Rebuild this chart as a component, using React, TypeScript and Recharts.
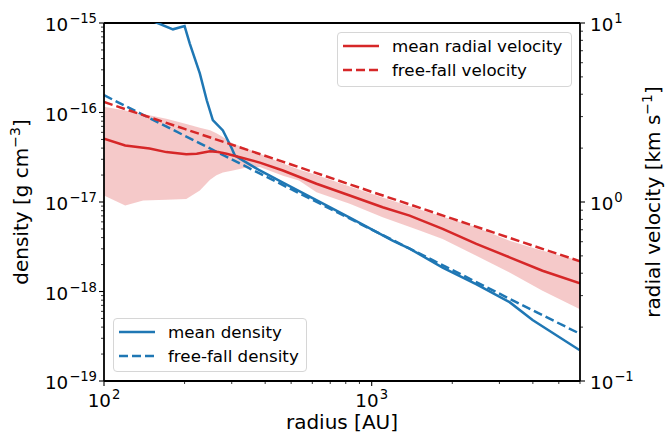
import { ComposedChart, Line, Area, XAxis, YAxis, ReferenceLine } from "recharts";

const BLUE = "#1f77b4";
const RED = "#d62728";
const FONT = "'DejaVu Sans', sans-serif";

// mean density profile (radius [AU], density [g cm^-3])
const DENS_R = [140, 159.5, 181, 200, 209, 228, 242, 255, 278, 290, 300, 308, 330, 382, 466, 624, 828, 1000, 1197, 1386, 1841, 2465, 3274, 3990, 5970];
const DENS_MEAN = [1.17e-15, 9.9e-16, 8.5e-16, 9.25e-16, 5.93e-16, 2.73e-16, 1.37e-16, 8.2e-17, 6.3e-17, 4.9e-17, 3.98e-17, 3.32e-17, 2.92e-17, 2.25e-17, 1.65e-17, 1.04e-17, 6.7e-18, 4.94e-18, 3.7e-18, 3.01e-18, 1.85e-18, 1.2e-18, 7.6e-19, 4.8e-19, 2.22e-19];

// free-fall density
const FF_DENS_R = [100, 200, 500, 1000, 2000, 4000, 6000];
const FF_DENS = [1.56e-16, 5.51e-17, 1.39e-17, 4.92e-18, 1.74e-18, 6.14e-19, 3.37e-19];

// mean radial velocity [km/s]
const VEL_R = [100, 120, 148, 171, 203, 222, 249, 267, 287, 322, 382, 466, 622, 828, 1099, 1386, 1841, 2460, 3274, 4346, 6000];
const VEL_MEAN = [2.26, 2.07, 1.99, 1.9, 1.85, 1.86, 1.92, 1.9, 1.86, 1.78, 1.66, 1.5, 1.265, 1.087, 0.935, 0.84, 0.708, 0.583, 0.491, 0.413, 0.351];

// spread of radial velocity
const BAND_R = [100, 120, 140, 171, 203, 228, 249, 263, 278, 303, 341, 382, 466, 535, 622, 828, 1099, 1511, 1841, 2460, 3274, 4346, 6000];
const BAND_HI = [3.4, 3.24, 3.1, 2.92, 2.73, 2.6, 2.52, 2.42, 2.31, 2.12, 1.99, 1.86, 1.64, 1.52, 1.415, 1.22, 1.06, 0.908, 0.83, 0.723, 0.608, 0.535, 0.47];
const BAND_LO = [1.087, 0.956, 1.02, 1.03, 1.04, 1.16, 1.33, 1.41, 1.46, 1.5, 1.56, 1.57, 1.4, 1.32, 1.135, 0.977, 0.822, 0.692, 0.622, 0.501, 0.404, 0.319, 0.252];

// free-fall velocity
const FF_VEL_R = [100, 200, 500, 1000, 2000, 4000, 6000];
const FF_VEL = [3.62, 2.56, 1.62, 1.14, 0.807, 0.57, 0.467];

const X_MAJOR = [100, 1000];
const RHO_MAJOR = [1e-19, 1e-18, 1e-17, 1e-16, 1e-15];
const V_MAJOR = [0.1, 1, 10];

const DASH = "9 4";
const LW = 2.5;

const TOP_LEGEND = [
  { label: "mean radial velocity", color: RED, dash: undefined },
  { label: "free-fall velocity", color: RED, dash: DASH },
];
const BOTTOM_LEGEND = [
  { label: "mean density", color: BLUE, dash: undefined },
  { label: "free-fall density", color: BLUE, dash: DASH },
];

function withMinor(majors: number[], max: number) {
  const out: number[] = [];
  majors.forEach((d) => {
    for (let m = 1; m <= 9; m++) {
      const v = d * m;
      if (v <= max * 1.0001) out.push(v);
    }
  });
  return out;
}

const X_TICKS = withMinor(X_MAJOR, 6000);
const RHO_TICKS = withMinor(RHO_MAJOR, 1e-15);
const V_TICKS = withMinor(V_MAJOR, 10);

const zip = (xs: number[], ys: number[], key: string) => xs.map((r, i) => ({ r, [key]: ys[i] }));
const densMean = zip(DENS_R, DENS_MEAN, "rho");
const densFF = zip(FF_DENS_R, FF_DENS, "rho");
const velMean = zip(VEL_R, VEL_MEAN, "v");
const velFF = zip(FF_VEL_R, FF_VEL, "v");
const band = BAND_R.map((r, i) => ({ r, range: [BAND_LO[i], BAND_HI[i]] }));

function decade(v: number) {
  const e = Math.log10(v);
  return Math.abs(e - Math.round(e)) < 1e-6 ? Math.round(e) : null;
}
const expText = (e: number) => (e < 0 ? "\u2212" + -e : String(e));

const TICK_FS = 18.3;
const SUP_FS = 13.2;

function Pow({ e, ...rest }: any) {
  return (
    <text fontFamily={FONT} fontSize={TICK_FS} fill="#000" {...rest}>
      10
      <tspan dx={1} dy={-8} fontSize={SUP_FS}>
        {expText(e)}
      </tspan>
    </text>
  );
}

function BottomTick({ x, y, payload }: any) {
  const e = decade(payload.value);
  return (
    <g>
      <line x1={x} x2={x} y1={y} y2={y + (e !== null ? 5 : 3)} stroke="#000" strokeWidth={e !== null ? 1.1 : 0.8} />
      {e !== null && <Pow e={e} x={x} y={y + 26} textAnchor="middle" />}
    </g>
  );
}

function LeftTick({ x, y, payload }: any) {
  const e = decade(payload.value);
  return (
    <g>
      <line x1={x} x2={x - (e !== null ? 5 : 3)} y1={y} y2={y} stroke="#000" strokeWidth={e !== null ? 1.1 : 0.8} />
      {e !== null && <Pow e={e} x={x - 7} y={y + 8} textAnchor="end" />}
    </g>
  );
}

function RightTick({ x, y, payload }: any) {
  const e = decade(payload.value);
  return (
    <g>
      <line x1={x} x2={x + (e !== null ? 5 : 3)} y1={y} y2={y} stroke="#000" strokeWidth={e !== null ? 1.1 : 0.8} />
      {e !== null && <Pow e={e} x={x + 10} y={y + 8} textAnchor="start" />}
    </g>
  );
}

function LegendBox({ left, top, width, height, items }: any) {
  return (
    <div
      style={{
        position: "absolute",
        left,
        top,
        width,
        height,
        boxSizing: "border-box",
        border: "1px solid #d6d6d6",
        borderRadius: 4,
        background: "rgba(255,255,255,0.8)",
      }}
    >
      {items.map((it: any, i: number) => (
        <div
          key={it.label}
          style={{ position: "absolute", left: 5, top: 3 + i * 24, height: 20, display: "flex", alignItems: "center" }}
        >
          <svg width={36} height={20}>
            <line x1={0} x2={36} y1={10} y2={10} stroke={it.color} strokeWidth={LW} strokeDasharray={it.dash} />
          </svg>
          <span style={{ marginLeft: 13, fontSize: 16.7, fontFamily: FONT, color: "#000", whiteSpace: "nowrap" }}>
            {it.label}
          </span>
        </div>
      ))}
    </div>
  );
}

const axisLine = { stroke: "#000", strokeWidth: 1.8 };

export default function App() {
  return (
    <div style={{ position: "absolute", left: 0, top: 0, width: 666, height: 434, background: "#fff" }}>
      <ComposedChart width={666} height={434} margin={{ top: 23, right: 26, bottom: 0, left: 44 }}>
        <XAxis
          dataKey="r"
          type="number"
          scale="log"
          domain={[100, 6000]}
          allowDataOverflow
          ticks={X_TICKS}
          interval={0}
          height={53}
          tickSize={0}
          tickMargin={0}
          tickLine={false}
          axisLine={axisLine}
          tick={(p: any) => <BottomTick {...p} />}
        />
        <YAxis
          yAxisId="rho"
          type="number"
          scale="log"
          domain={[1e-19, 1e-15]}
          allowDataOverflow
          ticks={RHO_TICKS}
          interval={0}
          width={60}
          tickSize={0}
          tickMargin={0}
          tickLine={false}
          axisLine={axisLine}
          tick={(p: any) => <LeftTick {...p} />}
        />
        <YAxis
          yAxisId="v"
          orientation="right"
          type="number"
          scale="log"
          domain={[0.1, 10]}
          allowDataOverflow
          ticks={V_TICKS}
          interval={0}
          width={60}
          tickSize={0}
          tickMargin={0}
          tickLine={false}
          axisLine={axisLine}
          tick={(p: any) => <RightTick {...p} />}
        />
        <ReferenceLine yAxisId="rho" y={1e-15} stroke="#000" strokeWidth={1.8} ifOverflow="visible" />

        <Line
          yAxisId="rho"
          data={densMean}
          dataKey="rho"
          type="linear"
          stroke={BLUE}
          strokeWidth={LW}
          dot={false}
          activeDot={false}
          isAnimationActive={false}
        />
        <Line
          yAxisId="rho"
          data={densFF}
          dataKey="rho"
          type="linear"
          stroke={BLUE}
          strokeWidth={LW}
          strokeDasharray={DASH}
          dot={false}
          activeDot={false}
          isAnimationActive={false}
        />
        <Area
          yAxisId="v"
          data={band}
          dataKey="range"
          type="linear"
          stroke="none"
          fill={RED}
          fillOpacity={0.25}
          dot={false}
          activeDot={false}
          isAnimationActive={false}
        />
        <Line
          yAxisId="v"
          data={velMean}
          dataKey="v"
          type="linear"
          stroke={RED}
          strokeWidth={LW}
          dot={false}
          activeDot={false}
          isAnimationActive={false}
        />
        <Line
          yAxisId="v"
          data={velFF}
          dataKey="v"
          type="linear"
          stroke={RED}
          strokeWidth={LW}
          strokeDasharray={DASH}
          dot={false}
          activeDot={false}
          isAnimationActive={false}
        />
      </ComposedChart>

      <svg width={666} height={434} style={{ position: "absolute", left: 0, top: 0, pointerEvents: "none" }}>
        <text x={342} y={429} textAnchor="middle" fontFamily={FONT} fontSize={20} fill="#000">
          radius [AU]
        </text>
        <text x={28} y={202} textAnchor="middle" transform="rotate(-90 28 202)" fontFamily={FONT} fontSize={20} fill="#000">
          density [g cm
          <tspan dy={-8} fontSize={14}>
            {"\u22123"}
          </tspan>
          <tspan dy={8}>]</tspan>
        </text>
        <text x={660} y={202} textAnchor="middle" transform="rotate(-90 660 202)" fontFamily={FONT} fontSize={20} fill="#000">
          radial velocity [km s
          <tspan dy={-8} fontSize={14}>
            {"\u22121"}
          </tspan>
          <tspan dy={8}>]</tspan>
        </text>
      </svg>

      <LegendBox left={337} top={32} width={235} height={55} items={TOP_LEGEND} />
      <LegendBox left={113} top={318} width={194} height={54} items={BOTTOM_LEGEND} />
    </div>
  );
}
